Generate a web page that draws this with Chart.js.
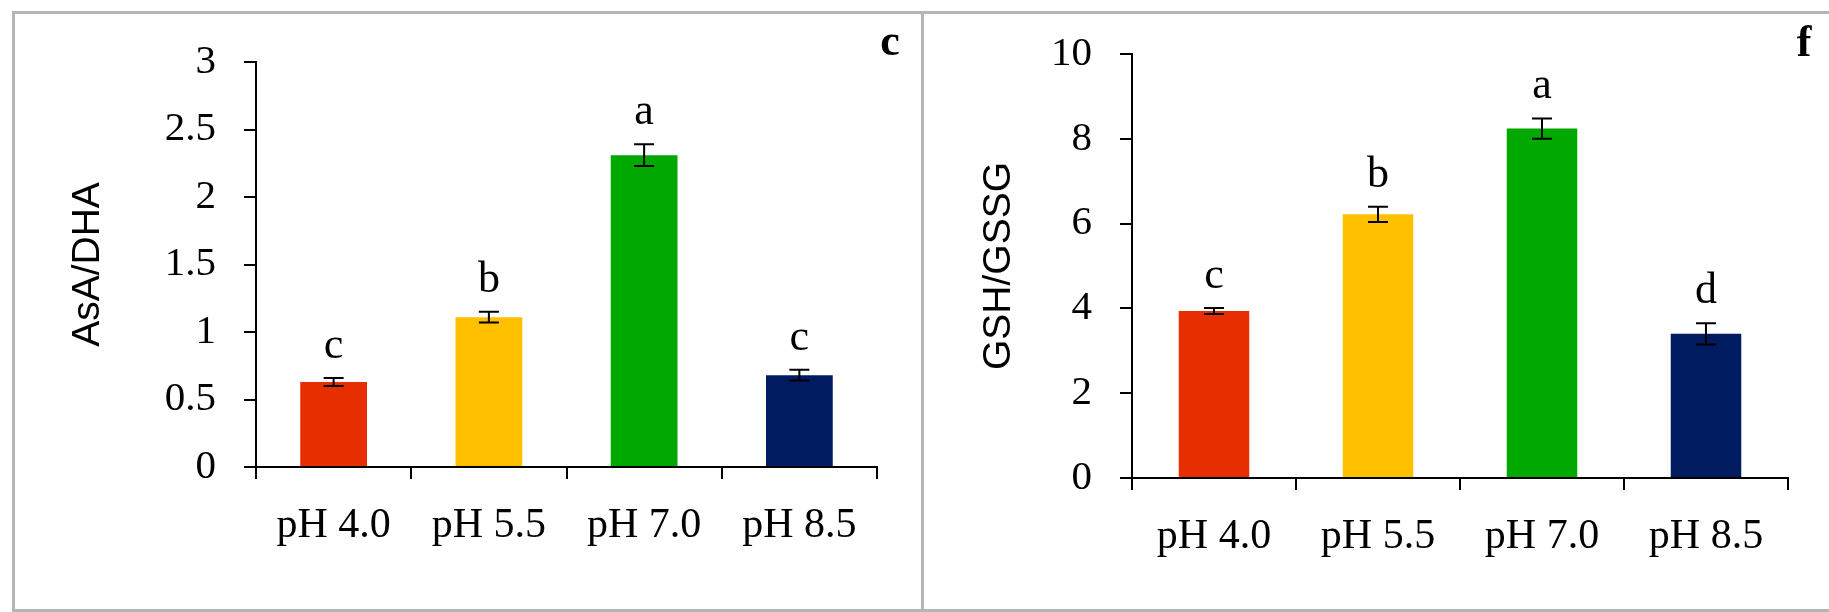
<!DOCTYPE html>
<html>
<head>
<meta charset="utf-8">
<script src="https://cdn.jsdelivr.net/npm/chart.js@4/dist/chart.umd.min.js"></script>
<style>
  body { margin: 0; width: 1829px; height: 612px; background: #fff; position: relative; overflow: hidden; }
  .frame { position: absolute; border: 3px solid #b5b5b5; box-sizing: border-box; }
  canvas { position: absolute; top: 0; }
</style>
</head>
<body>
<div class="frame" style="left:12px;top:11px;width:912px;height:601px"></div>
<div class="frame" style="left:921px;top:11px;width:930px;height:601px"></div>
<canvas id="chartC" width="922" height="612" style="left:0"></canvas>
<canvas id="chartF" width="907" height="612" style="left:922px"></canvas>
<script>
// -------- DATA --------
const categories = ['pH 4.0', 'pH 5.5', 'pH 7.0', 'pH 8.5'];
const barColors = ['#e62e00', '#ffc000', '#00a800', '#001b60'];

const asaDha = [0.63, 1.11, 2.31, 0.68];
const asaDhaErr = [0.03, 0.04, 0.08, 0.04];
const asaDhaLetters = ['c', 'b', 'a', 'c'];
const asaDhaTicks = [0, 0.5, 1, 1.5, 2, 2.5, 3];

const gshGssg = [3.94, 6.22, 8.24, 3.40];
const gshGssgErr = [0.07, 0.18, 0.24, 0.25];
const gshGssgLetters = ['c', 'b', 'a', 'd'];
const gshGssgTicks = [0, 2, 4, 6, 8, 10];

// error bars, significance letters and panel letter
const marksPlugin = {
  id: 'marks',
  afterDatasetsDraw(chart, args, opts) {
    const ctx = chart.ctx;
    const y = chart.scales.y;
    const values = chart.data.datasets[0].data;
    ctx.save();
    ctx.strokeStyle = '#000';
    ctx.fillStyle = '#000';
    ctx.lineWidth = 2;
    ctx.textAlign = 'center';
    ctx.textBaseline = 'alphabetic';
    chart.getDatasetMeta(0).data.forEach((bar, i) => {
      const top = y.getPixelForValue(values[i] + opts.errors[i]);
      const bot = y.getPixelForValue(values[i] - opts.errors[i]);
      ctx.beginPath();
      ctx.moveTo(bar.x, top); ctx.lineTo(bar.x, bot);
      ctx.moveTo(bar.x - 10, top); ctx.lineTo(bar.x + 10, top);
      ctx.moveTo(bar.x - 10, bot); ctx.lineTo(bar.x + 10, bot);
      ctx.stroke();
      ctx.font = '44px "Liberation Serif"';
      ctx.fillText(opts.letters[i], bar.x, top - 20);
    });
    ctx.font = 'bold 44px "Liberation Serif"';
    ctx.fillText(opts.panel, opts.panelX, opts.panelY);
    ctx.restore();
  }
};

function makeChart(canvas, values, errors, letters, ticks, title, cfg) {
  return new Chart(canvas, {
    type: 'bar',
    data: {
      labels: categories,
      datasets: [{
        data: values,
        backgroundColor: barColors,
        borderWidth: 0,
        barPercentage: 0.43,
        categoryPercentage: 1
      }]
    },
    options: {
      responsive: false,
      animation: false,
      layout: { padding: { left: 0, top: cfg.top, right: cfg.right, bottom: 0 } },
      plugins: {
        legend: { display: false },
        tooltip: { enabled: false },
        marks: { errors, letters, panel: cfg.panel, panelX: cfg.panelX, panelY: cfg.panelY }
      },
      scales: {
        x: {
          grid: { drawOnChartArea: false, drawTicks: true, tickLength: 12, color: '#000', lineWidth: 2, offset: true },
          border: { color: '#000', width: 2 },
          ticks: { color: '#000', font: { family: 'Liberation Serif', size: 42 }, padding: 22, maxRotation: 0, autoSkip: false },
          afterFit: s => { s.height = cfg.xHeight; }
        },
        y: {
          min: ticks[0],
          max: ticks[ticks.length - 1],
          afterBuildTicks: s => { s.ticks = ticks.map(v => ({ value: v })); },
          grid: { drawOnChartArea: false, drawTicks: true, tickLength: 12, color: '#000', lineWidth: 2 },
          border: { color: '#000', width: 2 },
          ticks: {
            color: '#000',
            font: { family: 'Liberation Serif', size: 41 },
            padding: 28,
            callback: v => String(v)
          },
          title: {
            display: true,
            text: title,
            color: '#000',
            font: { family: 'Liberation Sans', size: 39 },
            padding: { top: cfg.titlePad, bottom: 0 }
          },
          afterFit: s => { s.width = cfg.yWidth; }
        }
      }
    },
    plugins: [marksPlugin]
  });
}

makeChart(document.getElementById('chartC'), asaDha, asaDhaErr, asaDhaLetters, asaDhaTicks, 'AsA/DHA',
  { top: 62, right: 45, xHeight: 145, yWidth: 256, titlePad: 65, panel: 'c', panelX: 890, panelY: 55 });

makeChart(document.getElementById('chartF'), gshGssg, gshGssgErr, gshGssgLetters, gshGssgTicks, 'GSH/GSSG',
  { top: 54, right: 41, xHeight: 134, yWidth: 210, titlePad: 54, panel: 'f', panelX: 882, panelY: 56 });
</script>
</body>
</html>
